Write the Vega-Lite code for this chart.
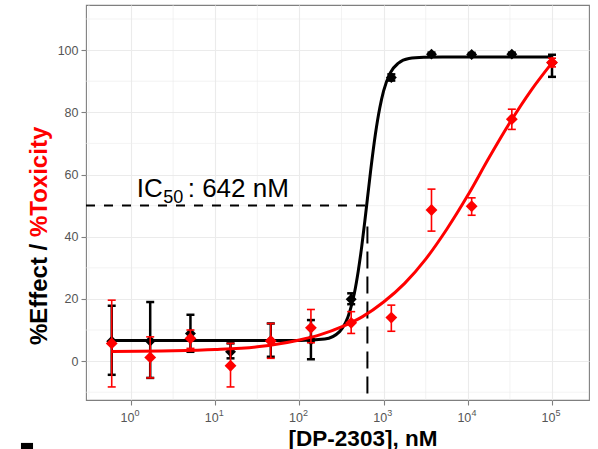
{
  "$schema": "https://vega.github.io/schema/vega-lite/v6.json",
  "width": 503,
  "height": 395,
  "autosize": {"type": "none"},
  "padding": {"left": 86, "top": 5, "right": 9, "bottom": 49},
  "background": "white",
  "config": {
    "font": "Liberation Sans",
    "view": {"stroke": "#7f7f7f", "strokeWidth": 1.1}
  },
  "datasets": {
    "pts": [
      {"series": "E", "conc": 0.59, "val": 6.4, "lo": -4.4, "hi": 17.8},
      {"series": "E", "conc": 1.69, "val": 6.5, "lo": -5.4, "hi": 19.0},
      {"series": "E", "conc": 5.08, "val": 8.9, "lo": 3.0, "hi": 14.9},
      {"series": "E", "conc": 15.2, "val": 3.0, "lo": 0.9, "hi": 5.7},
      {"series": "E", "conc": 45.7, "val": 6.5, "lo": 1.4, "hi": 12.1},
      {"series": "E", "conc": 137, "val": 6.8, "lo": 0.6, "hi": 13.2},
      {"series": "E", "conc": 412, "val": 19.9, "lo": 18.3, "hi": 21.8},
      {"series": "E", "conc": 1235, "val": 91.2, "lo": 90.2, "hi": 92.2},
      {"series": "E", "conc": 3704, "val": 98.7, "lo": 98.2, "hi": 99.2},
      {"series": "E", "conc": 11111, "val": 98.6, "lo": 98.1, "hi": 99.1},
      {"series": "E", "conc": 33333, "val": 98.7, "lo": 98.2, "hi": 99.2},
      {"series": "E", "conc": 100000, "val": 95.9, "lo": 91.4, "hi": 98.5},
      {"series": "T", "conc": 0.59, "val": 5.7, "lo": -8.3, "hi": 19.6},
      {"series": "T", "conc": 1.69, "val": 1.2, "lo": -5.4, "hi": 7.8},
      {"series": "T", "conc": 5.08, "val": 7.3, "lo": 4.1, "hi": 10.0},
      {"series": "T", "conc": 15.2, "val": -1.5, "lo": -8.3, "hi": 5.7},
      {"series": "T", "conc": 45.7, "val": 6.5, "lo": 0.9, "hi": 12.1},
      {"series": "T", "conc": 137, "val": 10.7, "lo": 5.9, "hi": 16.6},
      {"series": "T", "conc": 412, "val": 12.3, "lo": 8.9, "hi": 15.9},
      {"series": "T", "conc": 1235, "val": 14.0, "lo": 9.6, "hi": 18.0},
      {"series": "T", "conc": 3704, "val": 48.6, "lo": 41.8, "hi": 55.3},
      {"series": "T", "conc": 11111, "val": 49.8, "lo": 46.9, "hi": 52.5},
      {"series": "T", "conc": 33333, "val": 77.8, "lo": 74.5, "hi": 81.0},
      {"series": "T", "conc": 100000, "val": 96.0, "lo": 94.6, "hi": 97.4}
    ],
    "curves": [
      {"series": "E", "conc": 0.59, "val": 6.6},
      {"series": "E", "conc": 10, "val": 6.6},
      {"series": "E", "conc": 50, "val": 6.6},
      {"series": "E", "conc": 100, "val": 6.62},
      {"series": "E", "conc": 200, "val": 7.1},
      {"series": "E", "conc": 300, "val": 9.5},
      {"series": "E", "conc": 400, "val": 16.3},
      {"series": "E", "conc": 450, "val": 21.9},
      {"series": "E", "conc": 500, "val": 29.0},
      {"series": "E", "conc": 550, "val": 36.9},
      {"series": "E", "conc": 600, "val": 45.3},
      {"series": "E", "conc": 642, "val": 52.2},
      {"series": "E", "conc": 700, "val": 61.0},
      {"series": "E", "conc": 800, "val": 73.1},
      {"series": "E", "conc": 900, "val": 81.4},
      {"series": "E", "conc": 1000, "val": 86.9},
      {"series": "E", "conc": 1200, "val": 92.7},
      {"series": "E", "conc": 1500, "val": 95.8},
      {"series": "E", "conc": 2000, "val": 97.3},
      {"series": "E", "conc": 3000, "val": 97.7},
      {"series": "E", "conc": 5000, "val": 97.8},
      {"series": "E", "conc": 100000, "val": 97.8},
      {"series": "T", "conc": 0.59, "val": 3.1},
      {"series": "T", "conc": 3.162, "val": 3.3},
      {"series": "T", "conc": 10, "val": 3.7},
      {"series": "T", "conc": 31.62, "val": 4.6},
      {"series": "T", "conc": 100, "val": 6.8},
      {"series": "T", "conc": 177.8, "val": 8.5},
      {"series": "T", "conc": 316.2, "val": 11.0},
      {"series": "T", "conc": 562.3, "val": 14.3},
      {"series": "T", "conc": 1000, "val": 19.0},
      {"series": "T", "conc": 1778, "val": 25.0},
      {"series": "T", "conc": 3162, "val": 32.8},
      {"series": "T", "conc": 5623, "val": 42.4},
      {"series": "T", "conc": 10000, "val": 53.3},
      {"series": "T", "conc": 17783, "val": 65.3},
      {"series": "T", "conc": 31623, "val": 76.7},
      {"series": "T", "conc": 56234, "val": 87.0},
      {"series": "T", "conc": 100000, "val": 95.9}
    ]
  },
  "layer": [
    {
      "data": {"values": [{"conc": 0.3162}, {"conc": 3.162}, {"conc": 31.62}, {"conc": 316.2}, {"conc": 3162}, {"conc": 31623}]},
      "mark": {"type": "rule", "color": "#EBEBEB", "strokeWidth": 0.6},
      "encoding": {
        "x": {
          "field": "conc", "type": "quantitative",
          "scale": {"type": "log", "domain": [0.292, 275000], "nice": false, "zero": false},
          "axis": {
            "title": "[DP-2303], nM",
            "titleFontSize": 22.5, "titleFontWeight": "bold", "titleColor": "#000",
            "titleX": 276.5, "titleY": 27, "titleAlign": "center",
            "values": [1, 10, 100, 1000, 10000, 100000],
            "labelExpr": "'10'",
            "labelOverlap": false, "labelFlush": false, "labelFontSize": 12.5, "labelColor": "#555",
            "labelAlign": "right", "labelOffset": 3, "labelBaseline": "alphabetic", "labelPadding": 16.5,
            "domain": false,
            "grid": true, "gridColor": "#EBEBEB", "gridWidth": 1.1,
            "tickColor": "#7f7f7f", "tickSize": 5, "tickWidth": 1.1
          }
        }
      }
    },
    {
      "data": {"values": [{"val": -10}, {"val": 10}, {"val": 30}, {"val": 50}, {"val": 70}, {"val": 90}, {"val": 110}]},
      "mark": {"type": "rule", "color": "#EBEBEB", "strokeWidth": 0.6},
      "encoding": {
        "y": {
          "field": "val", "type": "quantitative",
          "scale": {"domain": [-12.5, 114.5], "nice": false, "zero": false},
          "axis": {
            "title": null,
            "values": [0, 20, 40, 60, 80, 100],
            "labelFontSize": 12.5, "labelColor": "#555", "labelPadding": 3,
            "domain": false,
            "grid": true, "gridColor": "#EBEBEB", "gridWidth": 1.1,
            "tickColor": "#7f7f7f", "tickSize": 5, "tickWidth": 1.1
          }
        }
      }
    },
    {
      "data": {"values": [
        {"conc": 1, "val": -17.6, "label": "0"},
        {"conc": 10, "val": -17.6, "label": "1"},
        {"conc": 100, "val": -17.6, "label": "2"},
        {"conc": 1000, "val": -17.6, "label": "3"},
        {"conc": 10000, "val": -17.6, "label": "4"},
        {"conc": 100000, "val": -17.6, "label": "5"}
      ]},
      "mark": {"type": "text", "fontSize": 9, "align": "left", "baseline": "alphabetic", "color": "#555", "dx": 3.6},
      "encoding": {
        "x": {"field": "conc", "type": "quantitative"},
        "y": {"field": "val", "type": "quantitative"},
        "text": {"field": "label"}
      }
    },
    {
      "data": {"values": [{"conc": 0.0493, "conc2": 0.0686, "val": -26.3, "val2": -28.3}]},
      "mark": {"type": "rect", "color": "#000"},
      "encoding": {
        "x": {"field": "conc", "type": "quantitative"},
        "x2": {"field": "conc2"},
        "y": {"field": "val", "type": "quantitative"},
        "y2": {"field": "val2"}
      }
    },
    {
      "data": {"values": [{"conc": 0.292, "conc2": 642, "val": 50}]},
      "mark": {"type": "rule", "color": "#000", "strokeWidth": 2, "strokeDash": [9, 9]},
      "encoding": {
        "x": {"field": "conc", "type": "quantitative"},
        "x2": {"field": "conc2"},
        "y": {"field": "val", "type": "quantitative"}
      }
    },
    {
      "data": {"values": [{"conc": 642, "val": 43.3, "val2": -12.5}]},
      "mark": {"type": "rule", "color": "#000", "strokeWidth": 2, "strokeDash": [17, 8]},
      "encoding": {
        "x": {"field": "conc", "type": "quantitative"},
        "y": {"field": "val", "type": "quantitative"},
        "y2": {"field": "val2"}
      }
    },
    {
      "data": {"name": "pts"},
      "transform": [{"filter": "datum.series == 'E'"}],
      "mark": {"type": "rule", "color": "#000", "strokeWidth": 2.5},
      "encoding": {
        "x": {"field": "conc", "type": "quantitative"},
        "y": {"field": "lo", "type": "quantitative"},
        "y2": {"field": "hi"}
      }
    },
    {
      "data": {"name": "pts"},
      "transform": [{"filter": "datum.series == 'E'"}],
      "mark": {"type": "tick", "orient": "horizontal", "color": "#000", "size": 8, "thickness": 2.5, "opacity": 1},
      "encoding": {
        "x": {"field": "conc", "type": "quantitative"},
        "y": {"field": "lo", "type": "quantitative"}
      }
    },
    {
      "data": {"name": "pts"},
      "transform": [{"filter": "datum.series == 'E'"}],
      "mark": {"type": "tick", "orient": "horizontal", "color": "#000", "size": 8, "thickness": 2.5, "opacity": 1},
      "encoding": {
        "x": {"field": "conc", "type": "quantitative"},
        "y": {"field": "hi", "type": "quantitative"}
      }
    },
    {
      "data": {"name": "curves"},
      "transform": [{"filter": "datum.series == 'E'"}],
      "mark": {"type": "line", "color": "#000", "strokeWidth": 3, "interpolate": "monotone"},
      "encoding": {
        "x": {"field": "conc", "type": "quantitative"},
        "y": {"field": "val", "type": "quantitative"}
      }
    },
    {
      "data": {"name": "pts"},
      "transform": [{"filter": "datum.series == 'E'"}],
      "mark": {"type": "point", "shape": "diamond", "filled": true, "size": 120, "color": "#000", "opacity": 1},
      "encoding": {
        "x": {"field": "conc", "type": "quantitative"},
        "y": {"field": "val", "type": "quantitative"}
      }
    },
    {
      "data": {"name": "pts"},
      "transform": [{"filter": "datum.series == 'T'"}],
      "mark": {"type": "rule", "color": "#ff0000", "strokeWidth": 1.6},
      "encoding": {
        "x": {"field": "conc", "type": "quantitative"},
        "y": {"field": "lo", "type": "quantitative"},
        "y2": {"field": "hi"}
      }
    },
    {
      "data": {"name": "pts"},
      "transform": [{"filter": "datum.series == 'T'"}],
      "mark": {"type": "tick", "orient": "horizontal", "color": "#ff0000", "size": 8, "thickness": 1.6, "opacity": 1},
      "encoding": {
        "x": {"field": "conc", "type": "quantitative"},
        "y": {"field": "lo", "type": "quantitative"}
      }
    },
    {
      "data": {"name": "pts"},
      "transform": [{"filter": "datum.series == 'T'"}],
      "mark": {"type": "tick", "orient": "horizontal", "color": "#ff0000", "size": 8, "thickness": 1.6, "opacity": 1},
      "encoding": {
        "x": {"field": "conc", "type": "quantitative"},
        "y": {"field": "hi", "type": "quantitative"}
      }
    },
    {
      "data": {"name": "curves"},
      "transform": [{"filter": "datum.series == 'T'"}],
      "mark": {"type": "line", "color": "#ff0000", "strokeWidth": 3, "interpolate": "monotone"},
      "encoding": {
        "x": {"field": "conc", "type": "quantitative"},
        "y": {"field": "val", "type": "quantitative"}
      }
    },
    {
      "data": {"name": "pts"},
      "transform": [{"filter": "datum.series == 'T'"}],
      "mark": {"type": "point", "shape": "diamond", "filled": true, "size": 140, "color": "#ff0000", "opacity": 1},
      "encoding": {
        "x": {"field": "conc", "type": "quantitative"},
        "y": {"field": "val", "type": "quantitative"}
      }
    },
    {
      "data": {"values": [{"conc": 1.168, "val": 52.86, "label": "IC"}]},
      "mark": {"type": "text", "fontSize": 26, "align": "left", "baseline": "alphabetic", "color": "#000"},
      "encoding": {
        "x": {"field": "conc", "type": "quantitative"},
        "y": {"field": "val", "type": "quantitative"},
        "text": {"field": "label"}
      }
    },
    {
      "data": {"values": [{"conc": 1.168, "val": 52.86, "label": "50"}]},
      "mark": {"type": "text", "fontSize": 18, "align": "left", "baseline": "alphabetic", "color": "#000", "dx": 26.5, "dy": 6.5},
      "encoding": {
        "x": {"field": "conc", "type": "quantitative"},
        "y": {"field": "val", "type": "quantitative"},
        "text": {"field": "label"}
      }
    },
    {
      "data": {"values": [{"conc": 1.168, "val": 52.86, "label": ": 642 nM"}]},
      "mark": {"type": "text", "fontSize": 26, "align": "left", "baseline": "alphabetic", "color": "#000", "dx": 51},
      "encoding": {
        "x": {"field": "conc", "type": "quantitative"},
        "y": {"field": "val", "type": "quantitative"},
        "text": {"field": "label"}
      }
    },
    {
      "data": {"values": [{"conc": 0.083, "val": 39.9, "label": "%Effect /"}]},
      "mark": {"type": "text", "fontSize": 24, "fontWeight": "bold", "angle": 270, "align": "right", "baseline": "middle", "color": "#000", "dx": -6.7},
      "encoding": {
        "x": {"field": "conc", "type": "quantitative"},
        "y": {"field": "val", "type": "quantitative"},
        "text": {"field": "label"}
      }
    },
    {
      "data": {"values": [{"conc": 0.083, "val": 39.9, "label": "%Toxicity"}]},
      "mark": {"type": "text", "fontSize": 24, "fontWeight": "bold", "angle": 270, "align": "left", "baseline": "middle", "color": "#ff0000"},
      "encoding": {
        "x": {"field": "conc", "type": "quantitative"},
        "y": {"field": "val", "type": "quantitative"},
        "text": {"field": "label"}
      }
    }
  ]
}
